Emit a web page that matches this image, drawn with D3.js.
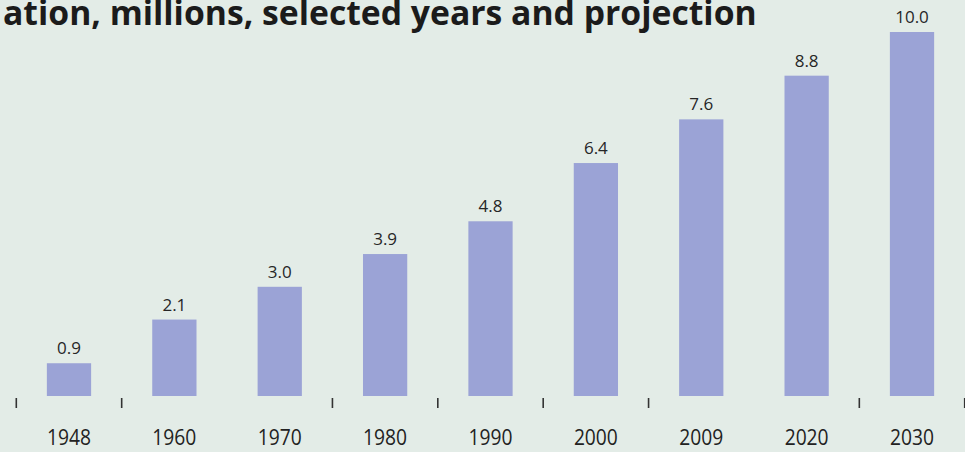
<!DOCTYPE html>
<html>
<head>
<meta charset="utf-8">
<script src="https://cdn.jsdelivr.net/npm/d3@7"></script>
<style>
  body { margin: 0; background: #e3ece7; }
  svg { display: block; }
</style>
</head>
<body>
<svg id="chart" width="965" height="452"></svg>
<script>
// data
var years = ["1948", "1960", "1970", "1980", "1990", "2000", "2009", "2020", "2030"];
var values = [0.9, 2.1, 3.0, 3.9, 4.8, 6.4, 7.6, 8.8, 10.0];
var valueLabels = ["0.9", "2.1", "3.0", "3.9", "4.8", "6.4", "7.6", "8.8", "10.0"];
// band edges that carry a small tick (some are missing in the original)
var tickEdges = [0, 1, 3, 4, 5, 6, 8, 9];
var titleText = "ation, millions, selected years and projection";

var svg = d3.select("#chart"),
    width = +svg.attr("width"),
    height = +svg.attr("height"),
    base = 396;

svg.append("rect")
    .attr("width", width)
    .attr("height", height)
    .attr("fill", "#e3ece7");

var x = d3.scaleBand()
    .domain(years)
    .range([16.3, 964.7])
    .paddingInner(0.58)
    .paddingOuter(0.29);

var y = d3.scaleLinear()
    .domain([0, 10])
    .range([base, 32]);

var step = x.step();
var edge = function (i) { return x(years[0]) - x.paddingOuter() * step + i * step; };

// title, squeezed to the width it has in the picture
var title = svg.append("text")
    .attr("x", 3)
    .attr("y", 25)
    .attr("font-family", "'Open Sans', sans-serif")
    .attr("font-weight", "bold")
    .attr("font-size", 29)
    .attr("fill", "#1b1b1b")
    .text(titleText);
var tw = title.node().getComputedTextLength();
title.attr("font-size", 29 * 754 / tw);

// bars
svg.selectAll(".bar")
    .data(values)
    .enter().append("rect")
    .attr("class", "bar")
    .attr("x", function (d, i) { return x(years[i]); })
    .attr("width", x.bandwidth())
    .attr("y", function (d) { return y(d); })
    .attr("height", function (d) { return base - y(d); })
    .attr("fill", "#9ba3d6");

// value labels
svg.selectAll(".val")
    .data(values)
    .enter().append("text")
    .attr("class", "val")
    .attr("x", function (d, i) { return x(years[i]) + x.bandwidth() / 2; })
    .attr("y", function (d) { return y(d) - 9; })
    .attr("text-anchor", "middle")
    .attr("font-family", "'Open Sans', sans-serif")
    .attr("font-size", 17)
    .attr("fill", "#262626")
    .text(function (d, i) { return valueLabels[i]; });

// small ticks between bars
svg.selectAll(".tick")
    .data(tickEdges)
    .enter().append("line")
    .attr("class", "tick")
    .attr("x1", function (d) { return edge(d); })
    .attr("x2", function (d) { return edge(d); })
    .attr("y1", base + 2)
    .attr("y2", base + 12)
    .attr("stroke", "#333")
    .attr("stroke-width", 1.6);

// year labels, narrow like the original
svg.selectAll(".year")
    .data(years)
    .enter().append("text")
    .attr("class", "year")
    .attr("x", function (d) { return x(d) + x.bandwidth() / 2; })
    .attr("y", 445)
    .attr("text-anchor", "middle")
    .attr("font-family", "'Open Sans', sans-serif")
    .attr("font-size", 21)
    .attr("fill", "#222")
    .attr("textLength", 44)
    .attr("lengthAdjust", "spacingAndGlyphs")
    .text(function (d) { return d; });
</script>
</body>
</html>
